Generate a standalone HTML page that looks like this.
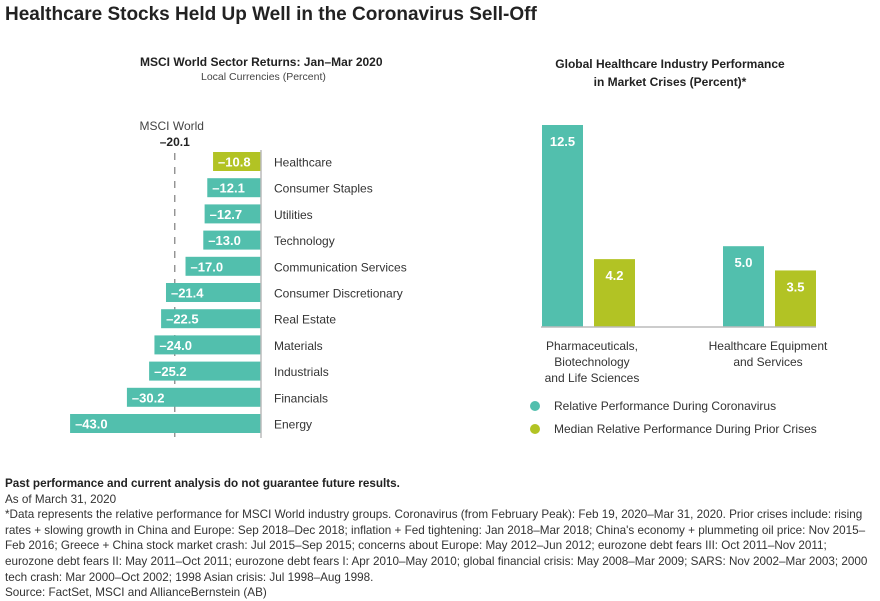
<!DOCTYPE html>
<html><head><meta charset="utf-8"><style>
body{margin:0;width:880px;height:601px;background:#fff;font-family:"Liberation Sans",sans-serif;overflow:hidden;position:relative}
.t{position:absolute;white-space:nowrap}
svg{position:absolute;left:0;top:0}
</style></head><body>
<div class="t" style="left:5px;top:4px;font-size:19px;font-weight:bold;color:#222">Healthcare Stocks Held Up Well in the Coronavirus Sell-Off</div>
<div class="t" style="left:140px;top:55px;font-size:12px;font-weight:bold;color:#222">MSCI World Sector Returns: Jan–Mar 2020</div>
<div class="t" style="left:201px;top:71px;font-size:10.5px;color:#444">Local Currencies (Percent)</div>
<div class="t" style="left:555px;top:55px;width:230px;text-align:center;font-size:12px;font-weight:bold;color:#222;line-height:18px;white-space:normal">Global Healthcare Industry Performance in Market Crises (Percent)*</div>
<svg width="880" height="601" id="svg"></svg>
<div class="t" style="left:5px;top:476px;width:870px;font-size:11.7px;color:#333;line-height:15.6px;white-space:normal"><b style="color:#222">Past performance and current analysis do not guarantee future results.</b><br>As of March 31, 2020<br>*Data represents the relative performance for MSCI World industry groups. Coronavirus (from February Peak): Feb 19, 2020–Mar 31, 2020. Prior crises include: rising rates + slowing growth in China and Europe: Sep 2018–Dec 2018; inflation + Fed tightening: Jan 2018–Mar 2018; China's economy + plummeting oil price: Nov 2015–Feb 2016; Greece + China stock market crash: Jul 2015–Sep 2015; concerns about Europe: May 2012–Jun 2012; eurozone debt fears III: Oct 2011–Nov 2011; eurozone debt fears II: May 2011–Oct 2011; eurozone debt fears I: Apr 2010–May 2010; global financial crisis: May 2008–Mar 2009; SARS: Nov 2002–Mar 2003; 2000 tech crash: Mar 2000–Oct 2002; 1998 Asian crisis: Jul 1998–Aug 1998.<br>Source: FactSet, MSCI and AllianceBernstein (AB)</div>
<script>
const sectors=["Healthcare","Consumer Staples","Utilities","Technology","Communication Services","Consumer Discretionary","Real Estate","Materials","Industrials","Financials","Energy"];
const returns=[-10.8,-12.1,-12.7,-13.0,-17.0,-21.4,-22.5,-24.0,-25.2,-30.2,-43.0];
const worldReturn=-20.1;
const groups=["Pharmaceuticals, Biotechnology and Life Sciences","Healthcare Equipment and Services"];
const coronaVals=[12.5,5.0];
const priorVals=[4.2,3.5];
const legendLabels=["Relative Performance During Coronavirus","Median Relative Performance During Prior Crises"];
const TEAL="#52bfad",GREEN="#b2c324";
const svg=document.getElementById('svg');const NS="http://www.w3.org/2000/svg";
function mk(tag,at,txt){const e=document.createElementNS(NS,tag);for(const k in at)e.setAttribute(k,at[k]);if(txt!=null)e.textContent=txt;svg.appendChild(e);return e;}
const fmt=v=>(v<0?"–":"")+Math.abs(v).toFixed(1);
const x0=261,kx=4.44,y0=152,step=26.2,bh=19;
const xL=v=>x0+v*kx;
const wx=xL(worldReturn)+3;
let e=mk('line',{x1:wx,x2:wx,y1:153,y2:437,stroke:'#888','stroke-width':1.3,'stroke-dasharray':'7,7'});

e=mk('text',{x:wx-3,y:130,'text-anchor':'middle','font-size':12,fill:'#444'},'MSCI World');

e=mk('text',{x:wx,y:146,'text-anchor':'middle','font-size':12,'font-weight':'bold',fill:'#222'},fmt(worldReturn));

returns.forEach((v,i)=>{const y=y0+i*step;
 e=mk('rect',{x:xL(v),y:y,width:x0-xL(v),height:bh,fill:i==0?GREEN:TEAL});
 
 e=mk('text',{x:xL(v)+5,y:y+14.5,'font-size':13,'font-weight':'bold',fill:'#fff'},fmt(v));
 
 e=mk('text',{x:274,y:y+14.5,'font-size':12,fill:'#333'},sectors[i]);
 
});
e=mk('line',{x1:x0,x2:x0,y1:150,y2:438,stroke:'#bbb','stroke-width':1.5});

const base=327,ky=16.16,bw=41;
const yR=v=>base-v*ky;
const gx=[542,723];
groups.forEach((g,i)=>{
 [[coronaVals[i],TEAL,0],[priorVals[i],GREEN,52]].forEach(([v,c,off],j)=>{
  const x=gx[i]+off;
  e=mk('rect',{x:x,y:yR(v),width:bw,height:base-yR(v),fill:c});
  
  e=mk('text',{x:x+bw/2,y:yR(v)+21,'text-anchor':'middle','font-size':13,'font-weight':'bold',fill:'#fff'},v.toFixed(1));
  
 });
});
e=mk('line',{x1:541,x2:816,y1:base,y2:base,stroke:'#bbb','stroke-width':1.5});

[["Pharmaceuticals,","Biotechnology","and Life Sciences"],["Healthcare Equipment","and Services"]].forEach((ls,i)=>{
 ls.forEach((l,k)=>{e=mk('text',{x:[592,768][i],y:350+k*16,'text-anchor':'middle','font-size':12,fill:'#333'},l);
 });
});
legendLabels.forEach((l,i)=>{
 e=mk('circle',{cx:535,cy:406+i*23,r:5,fill:i?GREEN:TEAL});
 
 e=mk('text',{x:554,y:410+i*23,'font-size':12,fill:'#333'},l);
 
});
</script>
</body></html>
